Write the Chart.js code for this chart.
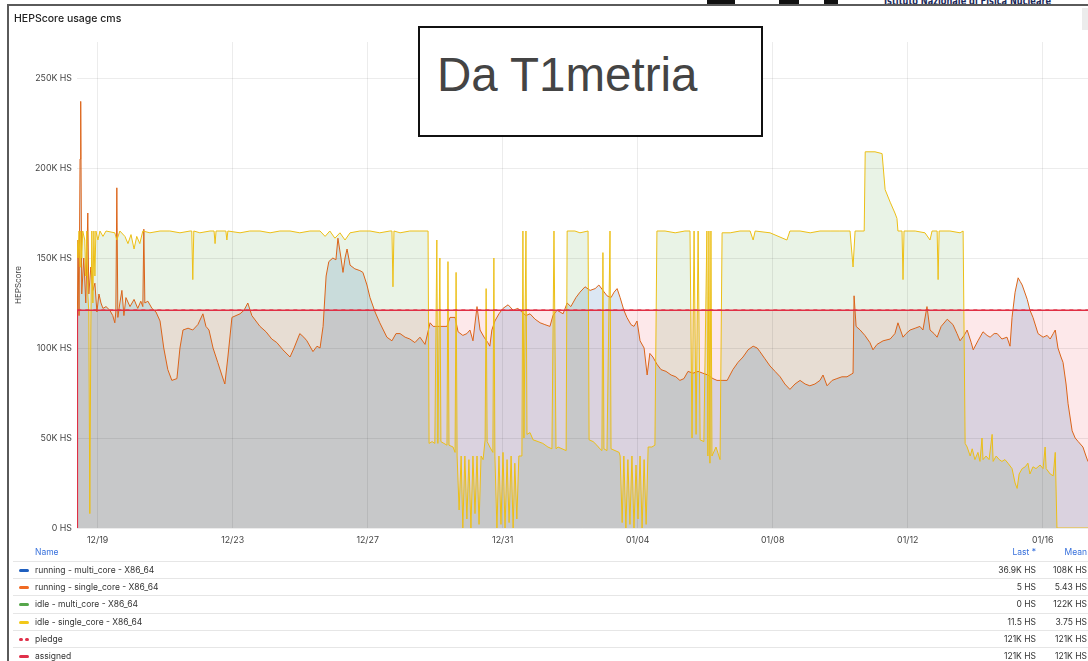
<!DOCTYPE html>
<html>
<head>
<meta charset="utf-8">
<title>HEPScore usage cms</title>
<script src="https://cdn.jsdelivr.net/npm/chart.js@4.4.1/dist/chart.umd.min.js"></script>
<style>
  html, body { margin: 0; padding: 0; background: #fff; width: 1088px; height: 661px; overflow: hidden; }
  body { position: relative; font-family: Inter, "Noto Sans", sans-serif; color: #333; }
  #logo { position: absolute; left: 884px; top: -6px; font-family: "DejaVu Sans Condensed", "DejaVu Sans", sans-serif; font-weight: bold; font-size: 12px; color: #1b2a5a; white-space: nowrap; transform: scaleX(0.76); transform-origin: left top; }
  .logo-mark { position: absolute; top: 0; height: 4px; background: #111; }
  #panel { position: absolute; left: 7px; top: 4px; width: 1100px; height: 700px; border-top: 2px solid #5a5a5a; border-left: 2px solid #5a5a5a; }
  #menu { position: absolute; left: 1082px; top: 8px; width: 8px; height: 22px; background: #ececec; }
  #title { position: absolute; left: 14px; top: 12px; font-size: 10.5px; font-weight: 500; color: #222; line-height: 14px; white-space: nowrap; }
  #chart { position: absolute; left: 0; top: 0; }
  #note { position: absolute; left: 418px; top: 26px; width: 341px; height: 107px; border: 2px solid #111; background: #fff; }
  #note span { position: absolute; left: 17px; top: 23px; font-family: "Liberation Sans", Arial, sans-serif; font-size: 47.5px; line-height: 47px; color: #444; white-space: nowrap; }
  .lg-head { position: absolute; top: 544px; height: 17px; line-height: 17px; font-size: 8.5px; color: #3871dc; white-space: nowrap; }
  .lg-row { position: absolute; left: 13px; width: 1080px; height: 17px; border-top: 1px solid #e6e6e6; font-size: 8.5px; line-height: 17px; color: #333; }
  .lg-row .mk { position: absolute; left: 6px; top: 7px; width: 10px; height: 3px; border-radius: 1.5px; }
  .lg-row .mk.dash { width: 4px; }
  .lg-row .nm { position: absolute; left: 22px; white-space: nowrap; }
  .lg-row .last { position: absolute; right: 57px; white-space: nowrap; }
  .lg-row .mean { position: absolute; right: 6px; white-space: nowrap; }
</style>
</head>
<body>
<div class="logo-mark" style="left:707px;width:28px"></div>
<div class="logo-mark" style="left:779px;width:20px"></div>
<div class="logo-mark" style="left:824px;width:14px"></div>
<div id="logo">Istituto Nazionale di Fisica Nucleare</div>
<div id="panel"></div>
<div id="menu"></div>
<canvas id="chart" width="1088" height="550"></canvas>
<div id="title">HEPScore usage cms</div>
<div id="note"><span>Da T1metria</span></div>
<div id="legend"></div>
<script>
// x values are days counted from 12/19 00:00, y values in K HS
var xTickLabels = ["12/19", "12/23", "12/27", "12/31", "01/04", "01/08", "01/12", "01/16"];
var yTickValues = [0, 50, 100, 150, 200, 250];

var runningDays = [-0.61, -0.58, -0.55, -0.52, -0.50, -0.47, -0.41, -0.35, -0.29, -0.26, -0.20, -0.14, -0.08, -0.02, 0.04, 0.10, 0.16, 0.25, 0.36, 0.45,
  0.51, 0.54, 0.57, 0.60, 0.66, 0.72, 0.78, 0.84, 0.96, 1.08, 1.19, 1.28, 1.34, 1.37, 1.40, 1.49, 1.61, 1.73, 1.85, 1.96,
  2.08, 2.20, 2.35, 2.44, 2.53, 2.68, 2.82, 2.97, 3.12, 3.21, 3.30, 3.42, 3.56, 3.68, 3.77, 3.86, 3.98, 4.10, 4.22, 4.34,
  4.45, 4.57, 4.69, 4.81, 4.99, 5.16, 5.31, 5.49, 5.70, 5.82, 5.99, 6.11, 6.20, 6.38, 6.50, 6.59, 6.68, 6.77, 6.85, 6.97,
  7.06, 7.12, 7.21, 7.27, 7.33, 7.39, 7.48, 7.62, 7.77, 7.86, 7.98, 8.07, 8.22, 8.36, 8.57, 8.72, 8.84, 8.96, 9.11, 9.25,
  9.40, 9.55, 9.70, 9.85, 9.94, 10.14, 10.35, 10.44, 10.59, 10.68, 10.82, 10.94, 11.03, 11.12, 11.24, 11.33, 11.45, 11.56, 11.62, 11.68,
  11.77, 11.89, 12.01, 12.16, 12.31, 12.45, 12.57, 12.69, 12.81, 12.96, 13.11, 13.25, 13.40, 13.49, 13.61, 13.79, 13.91, 14.02, 14.17, 14.29,
  14.44, 14.59, 14.74, 14.85, 14.97, 15.09, 15.21, 15.30, 15.39, 15.48, 15.59, 15.68, 15.80, 15.89, 15.98, 16.07, 16.19, 16.28, 16.36, 16.45,
  16.57, 16.69, 16.84, 16.99, 17.13, 17.25, 17.37, 17.49, 17.64, 17.79, 17.93, 18.08, 18.23, 18.35, 18.50, 18.65, 18.82, 18.97, 19.12, 19.27,
  19.42, 19.54, 19.62, 19.77, 19.92, 20.07, 20.22, 20.36, 20.51, 20.66, 20.81, 20.96, 21.10, 21.25, 21.40, 21.49, 21.61, 21.76, 21.90, 22.05,
  22.20, 22.38, 22.41, 22.47, 22.59, 22.73, 22.88, 22.97, 23.09, 23.27, 23.48, 23.62, 23.71, 23.86, 23.95, 24.07, 24.22, 24.36, 24.45, 24.57,
  24.66, 24.78, 24.87, 24.99, 25.17, 25.34, 25.46, 25.55, 25.67, 25.76, 25.88, 25.94, 26.08, 26.23, 26.35, 26.44, 26.56, 26.65, 26.79, 26.94,
  27.03, 27.09, 27.18, 27.27, 27.33, 27.39, 27.54, 27.62, 27.71, 27.86, 28.01, 28.13, 28.22, 28.31, 28.37, 28.45, 28.54, 28.60, 28.69, 28.75,
  28.87, 28.96, 29.05, 29.19, 29.28, 29.34];
var runningValues = [90, 160, 118, 205, 237, 130, 150, 125, 175, 130, 145, 132, 136, 120, 130, 125, 122, 123, 121, 118,
  114, 120, 189, 117, 125, 132, 118, 128, 123, 127, 122, 126, 123, 166, 125, 126, 122, 120, 115, 100,
  88, 82, 83, 100, 110, 111, 110, 113, 119, 112, 110, 100, 92, 85, 80, 95, 117, 118, 119, 121,
  125, 118, 115, 112, 109, 105, 103, 99, 95, 100, 108, 106, 104, 98, 101, 100, 112, 140, 148, 150,
  149, 161, 150, 142, 150, 155, 146, 144, 143, 142, 135, 128, 120, 114, 106, 104, 108, 108, 106, 105,
  103, 106, 102, 114, 112, 112, 112, 117, 117, 109, 107, 108, 110, 104, 123, 110, 106, 103, 101, 110,
  115, 119, 122, 124, 121, 122, 120, 118, 119, 116, 114, 113, 112, 118, 121, 119, 125, 123, 128, 131,
  134, 132, 133, 135, 132, 129, 128, 131, 133, 128, 121, 117, 113, 112, 115, 104, 100, 85, 97, 95,
  91, 88, 87, 85, 84, 82, 83, 87, 86, 87, 86, 85, 83, 82, 82, 82, 88, 92, 95, 99,
  101, 100, 98, 94, 90, 87, 84, 80, 77, 80, 82, 80, 79, 80, 82, 85, 79, 82, 83, 84,
  84, 86, 129, 112, 110, 107, 103, 99, 102, 104, 105, 108, 114, 106, 108, 110, 111, 112, 110, 123,
  110, 108, 106, 112, 116, 113, 108, 104, 107, 110, 103, 99, 104, 109, 107, 106, 108, 108, 105, 106,
  101, 117, 131, 139, 137, 135, 127, 121, 117, 108, 106, 107, 105, 108, 110, 100, 95, 92, 80, 69,
  54, 50, 48, 45, 40, 36.9];

var idleDays = [-0.61, -0.58, -0.55, -0.52, -0.50, -0.47, -0.44, -0.38, -0.35, -0.32, -0.29, -0.26, -0.23, -0.20, -0.17, -0.14, -0.11, -0.08, -0.05, 0.01,
  0.07, 0.16, 0.25, 0.51, 0.57, 0.66, 0.81, 0.90, 0.99, 1.08, 1.16, 1.25, 1.34, 1.55, 1.85, 2.14, 2.44, 2.74, 2.79, 2.82,
  2.85, 3.03, 3.33, 3.45, 3.48, 3.51, 3.80, 3.83, 3.86, 4.22, 4.51, 4.81, 5.11, 5.40, 5.70, 5.99, 6.29, 6.59, 6.74, 6.88,
  7.03, 7.18, 7.33, 7.48, 7.77, 8.07, 8.36, 8.66, 8.72, 8.75, 8.78, 8.96, 9.25, 9.55, 9.76, 9.79, 9.82, 9.91, 9.99, 10.05,
  10.08, 10.14, 10.17, 10.26, 10.35, 10.38, 10.41, 10.53, 10.59, 10.62, 10.65, 10.71, 10.77, 10.82, 10.88, 10.94, 11.00, 11.06, 11.12, 11.18,
  11.24, 11.30, 11.36, 11.42, 11.48, 11.51, 11.54, 11.62, 11.71, 11.74, 11.77, 11.83, 11.89, 11.95, 12.01, 12.07, 12.13, 12.19, 12.25, 12.31,
  12.36, 12.42, 12.48, 12.57, 12.60, 12.63, 12.69, 12.72, 12.81, 12.90, 13.05, 13.19, 13.34, 13.46, 13.52, 13.58, 13.64, 13.76, 13.88, 13.91,
  14.14, 14.29, 14.53, 14.56, 14.68, 14.79, 14.88, 14.94, 14.97, 15.00, 15.09, 15.18, 15.21, 15.33, 15.45, 15.48, 15.54, 15.59, 15.65, 15.71,
  15.77, 15.83, 15.89, 15.95, 16.01, 16.07, 16.13, 16.19, 16.25, 16.31, 16.42, 16.51, 16.57, 16.81, 17.11, 17.40, 17.55, 17.61, 17.67, 17.73,
  17.79, 17.85, 17.96, 18.05, 18.08, 18.11, 18.14, 18.17, 18.20, 18.32, 18.44, 18.50, 18.74, 19.03, 19.33, 19.42, 19.48, 19.92, 20.42, 20.51,
  20.81, 21.11, 21.40, 21.70, 21.99, 22.29, 22.38, 22.44, 22.71, 22.74, 23.03, 23.24, 23.33, 23.48, 23.62, 23.68, 23.71, 23.83, 23.86, 23.89,
  24.22, 24.51, 24.66, 24.72, 24.87, 24.90, 24.93, 25.25, 25.55, 25.64, 25.70, 25.76, 25.85, 25.91, 25.99, 26.08, 26.14, 26.20, 26.23, 26.32,
  26.41, 26.50, 26.53, 26.62, 26.71, 26.79, 26.88, 26.97, 27.09, 27.18, 27.24, 27.30, 27.39, 27.48, 27.56, 27.62, 27.71, 27.80, 27.92, 28.01,
  28.07, 28.10, 28.22, 28.31, 28.37, 28.42, 28.51, 29.34];
var idleValues = [160, 150, 165, 145, 165, 150, 165, 160, 140, 165, 130, 120, 8, 110, 165, 125, 165, 140, 165, 160,
  165, 162, 165, 164, 160, 165, 162, 158, 163, 155, 162, 158, 165, 164, 165, 165, 164, 165, 165, 138,
  165, 164, 165, 165, 158, 165, 165, 160, 165, 164, 165, 165, 164, 165, 165, 164, 165, 165, 162, 165,
  161, 164, 160, 164, 165, 165, 164, 165, 165, 134, 165, 164, 165, 165, 165, 165, 47, 48, 47, 160,
  47, 150, 48, 47, 46, 148, 46, 45, 42, 142, 40, 10, 40, 0, 40, 5, 38, 0, 40, 8,
  40, 2, 40, 38, 49, 133, 48, 45, 42, 150, 40, 0, 40, 2, 42, 0, 38, 3, 40, 0,
  36, 5, 40, 40, 165, 50, 165, 52, 53, 49, 48, 47, 45, 44, 165, 44, 45, 44, 43, 165,
  165, 164, 165, 49, 48, 46, 44, 43, 153, 44, 43, 165, 44, 43, 42, 40, 3, 40, 0, 38,
  2, 40, 0, 35, 5, 40, 0, 38, 2, 45, 45, 46, 165, 165, 164, 165, 165, 50, 165, 52,
  165, 49, 48, 165, 40, 165, 36, 165, 40, 45, 38, 164, 164, 165, 165, 160, 165, 164, 160, 165,
  165, 164, 165, 165, 165, 165, 145, 165, 165, 209, 209, 208, 188, 181, 175, 172, 165, 165, 138, 165,
  165, 164, 160, 165, 165, 138, 165, 165, 164, 165, 47, 45, 40, 44, 38, 42, 37, 50, 38, 40,
  38, 52, 37, 40, 38, 37, 38, 36, 33, 25, 22, 30, 33, 34, 36, 30, 34, 33, 35, 33,
  45, 33, 30, 29, 42, 0, 0, 0];

var pledgeDays = [-0.60, 29.34];
var pledgeValues = [121, 121];
var assignedDays = [-0.61, -0.60, 29.34];
var assignedValues = [0, 121, 121];

// legend table (Grafana style)
var legendNames = ["running - multi_core - X86_64", "running - single_core - X86_64", "idle - multi_core - X86_64",
  "idle - single_core - X86_64", "pledge", "assigned"];
var legendColors = ["#1f5fbf", "#f06a23", "#56a64b", "#f2c81a", "#e0304a", "#e0304a"];
var legendLast = ["36.9K HS", "5 HS", "0 HS", "11.5 HS", "121K HS", "121K HS"];
var legendMean = ["108K HS", "5.43 HS", "122K HS", "3.75 HS", "121K HS", "121K HS"];

function toPoints(days, values) {
  return days.map(function (d, i) { return { x: d, y: values[i] }; });
}

// fills are blended with "multiply" so overlaps turn grey like the Grafana panel
var blendFills = {
  id: "blendFills",
  beforeRender: function (chart) { chart.ctx.globalCompositeOperation = "multiply"; },
  beforeDraw: function (chart) { chart.ctx.globalCompositeOperation = "source-over"; }
};

Chart.defaults.font.family = "Inter, 'Noto Sans', sans-serif";

var tickFont = { size: 8.8 };
var gridColor = "rgba(0, 0, 0, 0.075)";

new Chart(document.getElementById("chart"), {
  type: "line",
  data: {
    datasets: [{
      label: "assigned",
      data: toPoints(assignedDays, assignedValues),
      borderColor: "#e02f44",
      borderWidth: 1.5,
      backgroundColor: "rgb(253, 232, 234)",
      fill: "origin"
    }, {
      label: "pledge",
      data: toPoints(pledgeDays, pledgeValues),
      borderColor: "#e02f44",
      borderWidth: 1.5,
      borderDash: [4, 4],
      fill: false
    }, {
      label: "idle - multi_core - X86_64",
      data: toPoints(idleDays, idleValues),
      borderColor: "#ecbf16",
      borderWidth: 1,
      backgroundColor: "rgb(233, 243, 230)",
      fill: "origin"
    }, {
      label: "running - multi_core - X86_64",
      data: toPoints(runningDays, runningValues),
      borderColor: "#dc6419",
      borderWidth: 1,
      backgroundColor: "rgb(220, 231, 243)",
      fill: "origin"
    }]
  },
  options: {
    responsive: false,
    animation: false,
    elements: { point: { radius: 0 }, line: { tension: 0 } },
    layout: { padding: { top: 42, left: 0, right: 0, bottom: 0 } },
    plugins: {
      legend: { display: false },
      tooltip: { enabled: false },
      filler: { drawTime: "beforeDraw" }
    },
    scales: {
      x: {
        type: "linear",
        min: -0.61,
        max: 29.34,
        afterBuildTicks: function (scale) {
          scale.ticks = xTickLabels.map(function (l, i) { return { value: i * 4 }; });
        },
        afterFit: function (scale) { scale.height = 22; },
        ticks: {
          autoSkip: false,
          maxRotation: 0,
          padding: 7,
          color: "#444",
          font: tickFont,
          callback: function (v) { return xTickLabels[Math.round(v / 4)]; }
        },
        grid: { color: gridColor, drawTicks: false },
        border: { display: false }
      },
      y: {
        min: 0,
        max: 270,
        afterBuildTicks: function (scale) {
          scale.ticks = yTickValues.map(function (v) { return { value: v }; });
        },
        afterFit: function (scale) { scale.width = 77; },
        ticks: {
          padding: 5,
          color: "#444",
          font: tickFont,
          callback: function (v) { return v === 0 ? "0 HS" : v + "K HS"; }
        },
        grid: { color: gridColor, drawTicks: false },
        border: { display: false },
        title: {
          display: true,
          text: "HEPScore",
          color: "#444",
          font: { size: 8 },
          padding: { top: 14, bottom: 0 }
        }
      }
    }
  },
  plugins: [blendFills]
});

// legend table under the plot
var legend = document.getElementById("legend");
var html = '<div class="lg-head" style="left:35px">Name</div>' +
  '<div class="lg-head" style="right:52px">Last *</div>' +
  '<div class="lg-head" style="right:1px">Mean</div>';
legendNames.forEach(function (name, i) {
  var top = 561 + i * 17.2;
  var mk = i === 4
    ? '<div class="mk dash" style="background:' + legendColors[i] + '"></div><div class="mk dash" style="left:12px;background:' + legendColors[i] + '"></div>'
    : '<div class="mk" style="background:' + legendColors[i] + '"></div>';
  html += '<div class="lg-row" style="top:' + top + 'px">' + mk +
    '<span class="nm">' + name + '</span>' +
    '<span class="last">' + legendLast[i] + '</span>' +
    '<span class="mean">' + legendMean[i] + '</span></div>';
});
legend.innerHTML = html;
</script>
</body>
</html>
